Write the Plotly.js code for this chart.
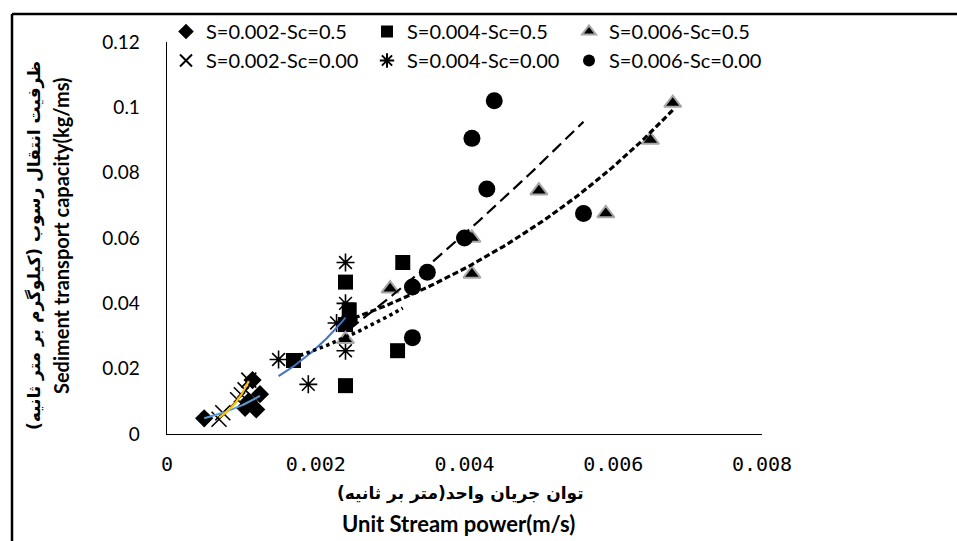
<!DOCTYPE html>
<html>
<head>
<meta charset="utf-8">
<script src="https://cdn.plot.ly/plotly-3.0.1.min.js"></script>
<style>
html,body{margin:0;padding:0;background:#fff;}
#chart{width:957px;height:541px;}
</style>
</head>
<body>
<div id="chart"></div>
<script>
// ---- Data ----
const seriesNames = ["S=0.002-Sc=0.5","S=0.004-Sc=0.5","S=0.006-Sc=0.5","S=0.002-Sc=0.00","S=0.004-Sc=0.00","S=0.006-Sc=0.00"];

const diamondX = [0.0005, 0.00105, 0.0011, 0.00115, 0.0012, 0.00125];
const diamondY = [0.0048, 0.0080, 0.0100, 0.0165, 0.0075, 0.0122];

const squareX = [0.0017, 0.0024, 0.00245, 0.0024, 0.0024, 0.0031, 0.00317];
const squareY = [0.0225, 0.0465, 0.0380, 0.0335, 0.0148, 0.0255, 0.0525];

const triangleX = [0.0024, 0.0030, 0.0041, 0.0041, 0.0050, 0.0059, 0.0065, 0.0068];
const triangleY = [0.0290, 0.0445, 0.0490, 0.0600, 0.0745, 0.0675, 0.0900, 0.1013];

const crossX = [0.0007, 0.00075, 0.00095, 0.0010, 0.00105, 0.0011];
const crossY = [0.0045, 0.0065, 0.0105, 0.0120, 0.0135, 0.0165];

const starX = [0.0015, 0.0019, 0.00228, 0.0024, 0.0024, 0.0024];
const starY = [0.0228, 0.0152, 0.0340, 0.0525, 0.0400, 0.0255];

const circleX = [0.00245, 0.0033, 0.0033, 0.0035, 0.0040, 0.0041, 0.0043, 0.0044, 0.0056];
const circleY = [0.0350, 0.0295, 0.0450, 0.0495, 0.0600, 0.0905, 0.0750, 0.1020, 0.0675];

const xTickVals = [0, 0.002, 0.004, 0.006, 0.008];
const xTickText = ["0", "0.002", "0.004", "0.006", "0.008"];
const yTickVals = [0, 0.02, 0.04, 0.06, 0.08, 0.1, 0.12];
const yTickText = ["0", "0.02", "0.04", "0.06", "0.08", "0.1", "0.12"];

// ---- Trendline fits (least squares, like spreadsheet trendlines) ----
function expFit(xs, ys){
  const n = xs.length; let sx=0, sy=0, sxx=0, sxy=0;
  for(let i=0;i<n;i++){ const l=Math.log(ys[i]); sx+=xs[i]; sy+=l; sxx+=xs[i]*xs[i]; sxy+=xs[i]*l; }
  const b=(n*sxy-sx*sy)/(n*sxx-sx*sx); const a=(sy-b*sx)/n;
  return x=>Math.exp(a+b*x);
}
function powFit(xs, ys){
  const n = xs.length; let sx=0, sy=0, sxx=0, sxy=0;
  for(let i=0;i<n;i++){ const lx=Math.log(xs[i]), l=Math.log(ys[i]); sx+=lx; sy+=l; sxx+=lx*lx; sxy+=lx*l; }
  const b=(n*sxy-sx*sy)/(n*sxx-sx*sx); const a=(sy-b*sx)/n;
  return x=>Math.exp(a)*Math.pow(x,b);
}
function curve(xs, f){
  const lo=Math.min(...xs), hi=Math.max(...xs); const X=[], Y=[];
  for(let i=0;i<=60;i++){ const x=lo+(hi-lo)*i/60; X.push(x); Y.push(f(x)); }
  return {x:X, y:Y};
}

const tickFontY = {family:"Lato, 'Open Sans', sans-serif", size:19, color:"#000"};
const tickFontX = {family:"'DejaVu Sans Mono', monospace", size:20, color:"#000"};
const legendFont = {family:"Lato, 'Open Sans', sans-serif", size:20, color:"#000"};

const traces = [
  {x:diamondX, y:diamondY, name:seriesNames[0], mode:"markers", type:"scatter", legend:"legend",
   marker:{symbol:"diamond", size:14, color:"#000"}},
  {x:crossX, y:crossY, name:seriesNames[3], mode:"markers", type:"scatter", legend:"legend",
   marker:{symbol:"x-thin-open", size:15, color:"#000", line:{color:"#000", width:1.6}}},
  {x:squareX, y:squareY, name:seriesNames[1], mode:"markers", type:"scatter", legend:"legend2",
   marker:{symbol:"square", size:15, color:"#000"}},
  {x:starX, y:starY, name:seriesNames[4], mode:"markers", type:"scatter", legend:"legend2",
   marker:{symbol:"asterisk-open", size:15, color:"#000", line:{color:"#000", width:1.6}}},
  {x:triangleX, y:triangleY, name:seriesNames[2], mode:"markers", type:"scatter", legend:"legend3",
   marker:{symbol:"triangle-up", size:15, color:"#000", line:{color:"#a6a6a6", width:2}}},
  {x:circleX, y:circleY, name:seriesNames[5], mode:"markers", type:"scatter", legend:"legend3",
   marker:{symbol:"circle", size:17, color:"#000"}}
];

const trendDefs = [
  {xs:diamondX, ys:diamondY, fit:expFit, line:{color:"#5b9bd5", width:2}},
  {xs:crossX, ys:crossY, fit:expFit, line:{color:"#ffc000", width:2.2}},
  {xs:starX, ys:starY, fit:expFit, line:{color:"#4472c4", width:2}},
  {xs:squareX, ys:squareY, fit:expFit, line:{color:"#000", width:3.5, dash:"dot"}},
  {xs:circleX, ys:circleY, fit:powFit, line:{color:"#000", width:2.2, dash:"12px,6px"}},
  {xs:triangleX, ys:triangleY, fit:expFit, line:{color:"#000", width:3.2, dash:"6px,3px"}}
];
trendDefs.forEach(t=>{
  const c = curve(t.xs, t.fit(t.xs, t.ys));
  traces.push({x:c.x, y:c.y, mode:"lines", type:"scatter", showlegend:false, hoverinfo:"skip", line:t.line});
});

// plot area pixels: x 167..762, y 42..434
const W=957, H=541;
const L=167, R=762, T=42, B=434;
const px = v => (v-L)/(R-L);
const py = v => (B-v)/(B-T);

function legendAt(xPix){
  return {orientation:"v", x:px(xPix), y:py(12), xanchor:"left", yanchor:"top",
          font:legendFont, bgcolor:"rgba(0,0,0,0)", itemsizing:"constant", traceorder:"normal"};
}

const layout = {
  width:W, height:H,
  margin:{l:L, r:W-R, t:T, b:H-B, pad:0, autoexpand:false},
  paper_bgcolor:"#fff", plot_bgcolor:"#fff",
  showlegend:true,
  legend:legendAt(166),
  legend2:legendAt(367),
  legend3:legendAt(569),
  xaxis:{range:[0,0.008], tickvals:xTickVals, ticktext:xTickText, showgrid:false, zeroline:false,
         showline:true, linecolor:"#000", linewidth:1.3, ticks:"", tickfont:tickFontX,
         ticklabelstandoff:12, fixedrange:true, automargin:false},
  yaxis:{range:[0,0.12], tickvals:yTickVals, ticktext:yTickText, showgrid:false, zeroline:false,
         showline:true, linecolor:"#000", linewidth:1.3, ticks:"", tickfont:tickFontY,
         ticklabelstandoff:22, fixedrange:true, automargin:false},
  annotations:[
    {text:"توان جریان واحد(متر بر ثانیه)", xref:"paper", yref:"paper", x:px(460), y:py(493),
     showarrow:false, xanchor:"center", yanchor:"middle",
     font:{family:"'DejaVu Sans', sans-serif", size:17, color:"#000", weight:"bold"}},
    {text:"<b>Unit Stream power(m/s)</b>", xref:"paper", yref:"paper", x:px(458), y:py(523),
     showarrow:false, xanchor:"center", yanchor:"middle",
     font:{family:"Lato, 'Open Sans', sans-serif", size:22, color:"#000"}},
    {text:"ظرفیت انتقال رسوب (کیلوگرم بر متر ثانیه)", xref:"paper", yref:"paper", x:px(34), y:py(246),
     showarrow:false, xanchor:"center", yanchor:"middle", textangle:-90,
     font:{family:"'DejaVu Sans', sans-serif", size:17, color:"#000", weight:"bold"}},
    {text:"<b>Sediment transport capacity(kg/ms)</b>", xref:"paper", yref:"paper", x:px(61), y:py(236),
     showarrow:false, xanchor:"center", yanchor:"middle", textangle:-90,
     font:{family:"Lato, 'Open Sans', sans-serif", size:20, color:"#000"}}
  ],
  shapes:[
    {type:"line", xref:"paper", yref:"paper", x0:px(12), x1:px(957), y0:py(14), y1:py(14),
     line:{color:"#000", width:2.5}},
    {type:"line", xref:"paper", yref:"paper", x0:px(12), x1:px(12), y0:py(14), y1:py(541),
     line:{color:"#000", width:2.5}}
  ]
};

Plotly.newPlot("chart", traces, layout, {displayModeBar:false, staticPlot:true});
</script>
</body>
</html>
